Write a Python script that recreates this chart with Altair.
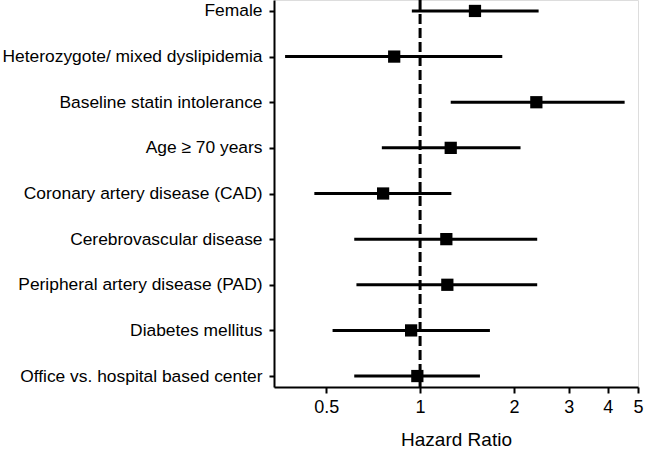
import altair as alt
import pandas as pd

labels = [
    "Female",
    "Heterozygote/ mixed dyslipidemia",
    "Baseline statin intolerance",
    "Age \u2265 70 years",
    "Coronary artery disease (CAD)",
    "Cerebrovascular disease",
    "Peripheral artery disease (PAD)",
    "Diabetes mellitus",
    "Office vs. hospital based center",
]
hr = [1.50, 0.826, 2.36, 1.254, 0.761, 1.214, 1.223, 0.936, 0.98]
lo = [0.941, 0.369, 1.254, 0.754, 0.458, 0.615, 0.625, 0.524, 0.615]
hi = [2.40, 1.835, 4.53, 2.10, 1.26, 2.375, 2.375, 1.675, 1.556]
ref_value = [1]
x_ticks = [0.5, 1, 2, 3, 4, 5]

df = pd.DataFrame({"label": labels, "hr": hr, "lo": lo, "hi": hi})
ref = pd.DataFrame({"v": ref_value})

xscale = alt.Scale(type="log", domain=[0.34, 5.0], nice=False, clamp=False)
yscale = alt.Scale(type="point", padding=0.24)

y_enc = alt.Y("label:N", sort=labels, scale=yscale,
              axis=alt.Axis(title=None, labelFontSize=17.4, labelPadding=7, labelLimit=0,
                            tickSize=5, tickWidth=2, domainWidth=2,
                            labelColor="black", tickColor="black", domainColor="black",
                            labelFont="Liberation Sans", grid=False))

x_axis = alt.Axis(values=x_ticks, format="~g", title="Hazard Ratio",
                  labelFontSize=18, titleFontSize=19, titleFontWeight="normal",
                  labelFont="Liberation Sans", titleFont="Liberation Sans",
                  tickSize=6, tickWidth=2, domainWidth=2, labelPadding=5,
                  titlePadding=14, labelColor="black", titleColor="black",
                  tickColor="black", domainColor="black", grid=False, labelFlush=False)

ci = alt.Chart(df).mark_rule(color="black", strokeWidth=3).encode(
    x=alt.X("lo:Q", scale=xscale, axis=x_axis),
    x2="hi:Q",
    y=y_enc,
)

pts = alt.Chart(df).mark_square(size=150, color="black", opacity=1, filled=True).encode(
    x=alt.X("hr:Q", scale=xscale),
    y=alt.Y("label:N", sort=labels, scale=yscale),
)

refline = alt.Chart(ref).mark_rule(color="black", strokeWidth=3, strokeDash=[10, 4]).encode(
    x=alt.X("v:Q", scale=xscale),
)

chart = alt.layer(refline, ci, pts).properties(
    width=364, height=387,
    autosize=alt.AutoSizeParams(type="none"),
    padding={"left": 274, "top": 0, "right": 9, "bottom": 65},
).configure_view(stroke=None).configure(background="white")

chart.save("out.html", embed_options={"renderer": "svg", "actions": False})
